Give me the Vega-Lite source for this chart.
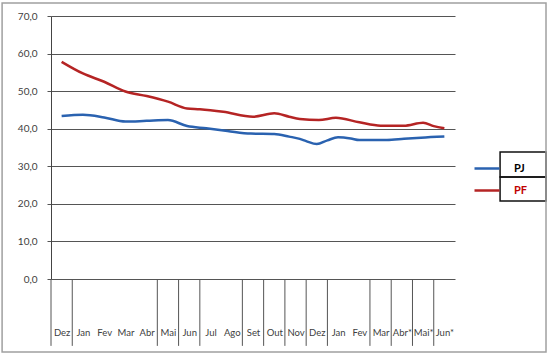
{
  "$schema": "https://vega.github.io/schema/vega-lite/v6.json",
  "width": 404,
  "height": 263,
  "autosize": {"type": "none"},
  "padding": {"left": 51, "top": 16, "right": 95, "bottom": 77},
  "background": "white",
  "config": {
    "view": {"stroke": null},
    "font": "Lato",
    "axis": {"labelFont": "Lato", "labelFontSize": 10, "labelColor": "#404040", "labelOverlap": false},
    "legend": {"labelFont": "Lato"}
  },
  "resolve": {"scale": {"color": "independent"}},
  "datasets": {
    "series": [
      {"series": "PF", "t": 0, "v": 57.8},
      {"series": "PF", "t": 1, "v": 54.7},
      {"series": "PF", "t": 2, "v": 52.5},
      {"series": "PF", "t": 3, "v": 49.9},
      {"series": "PF", "t": 4, "v": 48.7},
      {"series": "PF", "t": 5, "v": 47.2},
      {"series": "PF", "t": 5.9, "v": 45.4},
      {"series": "PF", "t": 6.5, "v": 45.2},
      {"series": "PF", "t": 7.6, "v": 44.5},
      {"series": "PF", "t": 9, "v": 43.2},
      {"series": "PF", "t": 10, "v": 44.1},
      {"series": "PF", "t": 10.7, "v": 43.2},
      {"series": "PF", "t": 11.2, "v": 42.6},
      {"series": "PF", "t": 12.1, "v": 42.3},
      {"series": "PF", "t": 12.9, "v": 42.9},
      {"series": "PF", "t": 14, "v": 41.7},
      {"series": "PF", "t": 15, "v": 40.8},
      {"series": "PF", "t": 16.1, "v": 40.8},
      {"series": "PF", "t": 17, "v": 41.6},
      {"series": "PF", "t": 17.5, "v": 40.7},
      {"series": "PF", "t": 18, "v": 40.1},
      {"series": "PJ", "t": 0, "v": 43.4},
      {"series": "PJ", "t": 1, "v": 43.7},
      {"series": "PJ", "t": 2, "v": 43.0},
      {"series": "PJ", "t": 3, "v": 41.9},
      {"series": "PJ", "t": 4, "v": 42.1},
      {"series": "PJ", "t": 5, "v": 42.3},
      {"series": "PJ", "t": 5.9, "v": 40.7},
      {"series": "PJ", "t": 6.8, "v": 40.1},
      {"series": "PJ", "t": 7.8, "v": 39.4},
      {"series": "PJ", "t": 8.9, "v": 38.7},
      {"series": "PJ", "t": 10, "v": 38.6},
      {"series": "PJ", "t": 10.7, "v": 37.9},
      {"series": "PJ", "t": 11.2, "v": 37.3},
      {"series": "PJ", "t": 11.5, "v": 36.7},
      {"series": "PJ", "t": 12, "v": 35.9},
      {"series": "PJ", "t": 12.5, "v": 36.9},
      {"series": "PJ", "t": 13, "v": 37.7},
      {"series": "PJ", "t": 13.6, "v": 37.4},
      {"series": "PJ", "t": 14, "v": 37.0},
      {"series": "PJ", "t": 15.3, "v": 37.0},
      {"series": "PJ", "t": 16.1, "v": 37.3},
      {"series": "PJ", "t": 16.9, "v": 37.6},
      {"series": "PJ", "t": 18, "v": 37.9}
    ],
    "separators": [
      {"b": -0.5}, {"b": 0.5}, {"b": 4.5}, {"b": 5.5}, {"b": 6.5}, {"b": 8.5},
      {"b": 9.5}, {"b": 10.5}, {"b": 11.5}, {"b": 12.5}, {"b": 14.5},
      {"b": 15.5}, {"b": 16.5}, {"b": 17.5}
    ]
  },
  "layer": [
    {
      "data": {"name": "series"},
      "transform": [{"filter": "datum.series === 'PJ'"}],
      "mark": {"type": "line", "strokeWidth": 2.5, "interpolate": "monotone"},
      "encoding": {
        "x": {
          "field": "t", "type": "quantitative",
          "scale": {"domain": [-0.5, 18.5], "nice": false, "zero": false},
          "axis": {
            "title": null,
            "values": [0,1,2,3,4,5,6,7,8,9,10,11,12,13,14,15,16,17,18],
            "tickCount": 25,
            "labelExpr": "['Dez','Jan','Fev','Mar','Abr','Mai','Jun','Jul','Ago','Set','Out','Nov','Dez','Jan','Fev','Mar','Abr*','Mai*','Jun*'][datum.value]",
            "grid": false, "ticks": false, "domain": false,
            "labelPadding": 48, "labelAngle": 0, "labelFlush": false, "labelOverlap": false,
            "labelFontSize": 9.5
          }
        },
        "y": {
          "field": "v", "type": "quantitative",
          "scale": {"domain": [0, 70], "nice": false},
          "axis": {
            "title": null,
            "values": [0,10,20,30,40,50,60,70],
            "tickCount": 12,
            "labelExpr": "replace(format(datum.value, '.1f'), '.', ',')",
            "grid": true, "gridColor": "#555555", "gridWidth": 1, "gridOpacity": 1,
            "domainColor": "#444444", "tickColor": "#555555", "tickSize": 4,
            "labelPadding": 10, "labelOverlap": false
          }
        },
        "color": {
          "field": "series", "type": "nominal",
          "scale": {"domain": ["PJ"], "range": ["#2a62b0"]},
          "legend": {
            "orient": "none", "legendX": 422, "legendY": 138.5,
            "title": null, "padding": 0,
            "symbolType": "stroke", "symbolSize": 625, "symbolStrokeWidth": 2.5,
            "labelFontWeight": "bold", "labelFontSize": 11, "labelOffset": 13,
            "labelColor": "#000000"
          }
        }
      }
    },
    {
      "data": {"name": "series"},
      "transform": [{"filter": "datum.series === 'PF'"}],
      "mark": {"type": "line", "strokeWidth": 2.5, "interpolate": "monotone"},
      "encoding": {
        "x": {"field": "t", "type": "quantitative"},
        "y": {"field": "v", "type": "quantitative"},
        "color": {
          "field": "series", "type": "nominal",
          "scale": {"domain": ["PF"], "range": ["#b52424"]},
          "legend": {
            "orient": "none", "legendX": 422, "legendY": 160.5,
            "title": null, "padding": 0,
            "symbolType": "stroke", "symbolSize": 625, "symbolStrokeWidth": 2.5,
            "labelFontWeight": "bold", "labelFontSize": 11, "labelOffset": 13,
            "labelColor": "#c00000"
          }
        }
      }
    },
    {
      "data": {"name": "separators"},
      "mark": {"type": "rule", "color": "#555555", "strokeWidth": 1, "clip": false},
      "encoding": {
        "x": {"field": "b", "type": "quantitative"},
        "y": {"datum": 0},
        "y2": {"datum": -17.8}
      }
    },
    {
      "data": {"values": [{}]},
      "mark": {"type": "rect", "filled": false, "stroke": "#111111", "strokeWidth": 1.5, "clip": false},
      "encoding": {
        "x": {"datum": 20.62, "type": "quantitative"},
        "x2": {"datum": 22.78},
        "y": {"datum": 33.8, "type": "quantitative"},
        "y2": {"datum": 27.15}
      }
    },
    {
      "data": {"values": [{}]},
      "mark": {"type": "rect", "filled": false, "stroke": "#111111", "strokeWidth": 1.5, "clip": false},
      "encoding": {
        "x": {"datum": 20.62, "type": "quantitative"},
        "x2": {"datum": 22.78},
        "y": {"datum": 27.15, "type": "quantitative"},
        "y2": {"datum": 20.76}
      }
    },
    {
      "data": {"values": [{}]},
      "mark": {"type": "rect", "filled": false, "stroke": "#a0a0a0", "strokeWidth": 1.5, "clip": false},
      "encoding": {
        "x": {"datum": -2.8, "type": "quantitative"},
        "x2": {"datum": 22.78},
        "y": {"datum": 73.46, "type": "quantitative"},
        "y2": {"datum": -19.43}
      }
    }
  ]
}
